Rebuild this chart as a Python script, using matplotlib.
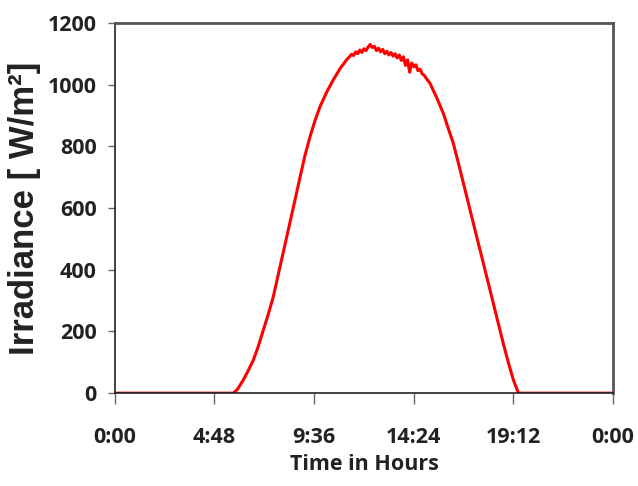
import matplotlib.pyplot as plt

# time of day in hours, irradiance in W/m2
hours = [0.0, 5.70, 5.9, 6.18, 6.4, 6.67, 6.9, 7.15, 7.4, 7.63, 7.9, 8.11,
         8.3, 8.51, 8.7, 8.92, 9.15, 9.40, 9.65, 9.88, 10.2, 10.52, 10.85,
         11.16, 11.3, 11.4, 11.5, 11.6, 11.7, 11.8, 11.9, 12.0, 12.1, 12.2,
         12.3, 12.4, 12.5, 12.6, 12.7, 12.8, 12.9, 13.0, 13.1, 13.2, 13.3,
         13.4, 13.5, 13.6, 13.7, 13.8, 13.9, 14.0, 14.1, 14.2, 14.3, 14.4,
         14.5, 14.6, 14.7, 14.8, 14.9, 15.0, 15.18, 15.5, 15.82, 16.05, 16.30,
         16.55, 16.79, 17.03, 17.27, 17.51, 17.75, 17.99, 18.23, 18.47, 18.71,
         18.95, 19.20, 19.44, 24.0]
irradiance = [0, 0, 12, 42, 70, 107, 150, 204, 258, 312, 393, 456,
              513, 576, 633, 700, 768, 831, 885, 928, 975, 1015, 1052,
              1080, 1090, 1098, 1094, 1106, 1100, 1112, 1104, 1116, 1110, 1122,
              1130, 1120, 1124, 1110, 1118, 1106, 1114, 1100, 1108, 1096, 1104,
              1092, 1100, 1086, 1096, 1078, 1090, 1062, 1080, 1040, 1070, 1058,
              1064, 1045, 1050, 1035, 1030, 1020, 1004, 958, 907, 860, 810,
              745, 680, 615, 550, 485, 421, 356, 291, 226, 161,
              100, 42, 0, 0]

x_ticks = [0, 4.8, 9.6, 14.4, 19.2, 24]
x_labels = ['0:00', '4:48', '9:36', '14:24', '19:12', '0:00']
y_ticks = [0, 200, 400, 600, 800, 1000, 1200]


def plot_irradiance():
    fig = plt.figure(figsize=(6.38, 4.86), dpi=100)
    ax = fig.add_axes([0.180, 0.191, 0.781, 0.762])
    ax.plot(hours, irradiance, color='#ff0000', linewidth=2.2)

    ax.set_xlim(0, 24)
    ax.set_ylim(0, 1200)
    ax.set_xticks(x_ticks)
    ax.set_xticklabels(x_labels)
    ax.set_yticks(y_ticks)

    for lab in ax.get_xticklabels() + ax.get_yticklabels():
        lab.set_fontfamily('Open Sans')
        lab.set_fontweight('bold')
        lab.set_fontsize(15.5)
        lab.set_color('#222222')
    ax.tick_params(axis='x', direction='out', length=8, width=1,
                   color='#666666', pad=16)
    ax.tick_params(axis='y', direction='out', length=5, width=1,
                   color='#666666', pad=8)

    for side in ['left', 'bottom']:
        ax.spines[side].set_color('#222222')
        ax.spines[side].set_linewidth(1.2)
    for side in ['top', 'right']:
        ax.spines[side].set_color('#555555')
        ax.spines[side].set_linewidth(2.0)

    ax.set_xlabel('Time in Hours', family='Open Sans', weight='bold',
                  size=15.5, color='#222222', labelpad=5)
    ax.set_ylabel('Irradiance [ W/m²]', family='Liberation Sans', weight='bold',
                  size=25, color='#222222', labelpad=5)

    fig.savefig('out.png', dpi=100)


if __name__ == '__main__':
    plot_irradiance()
